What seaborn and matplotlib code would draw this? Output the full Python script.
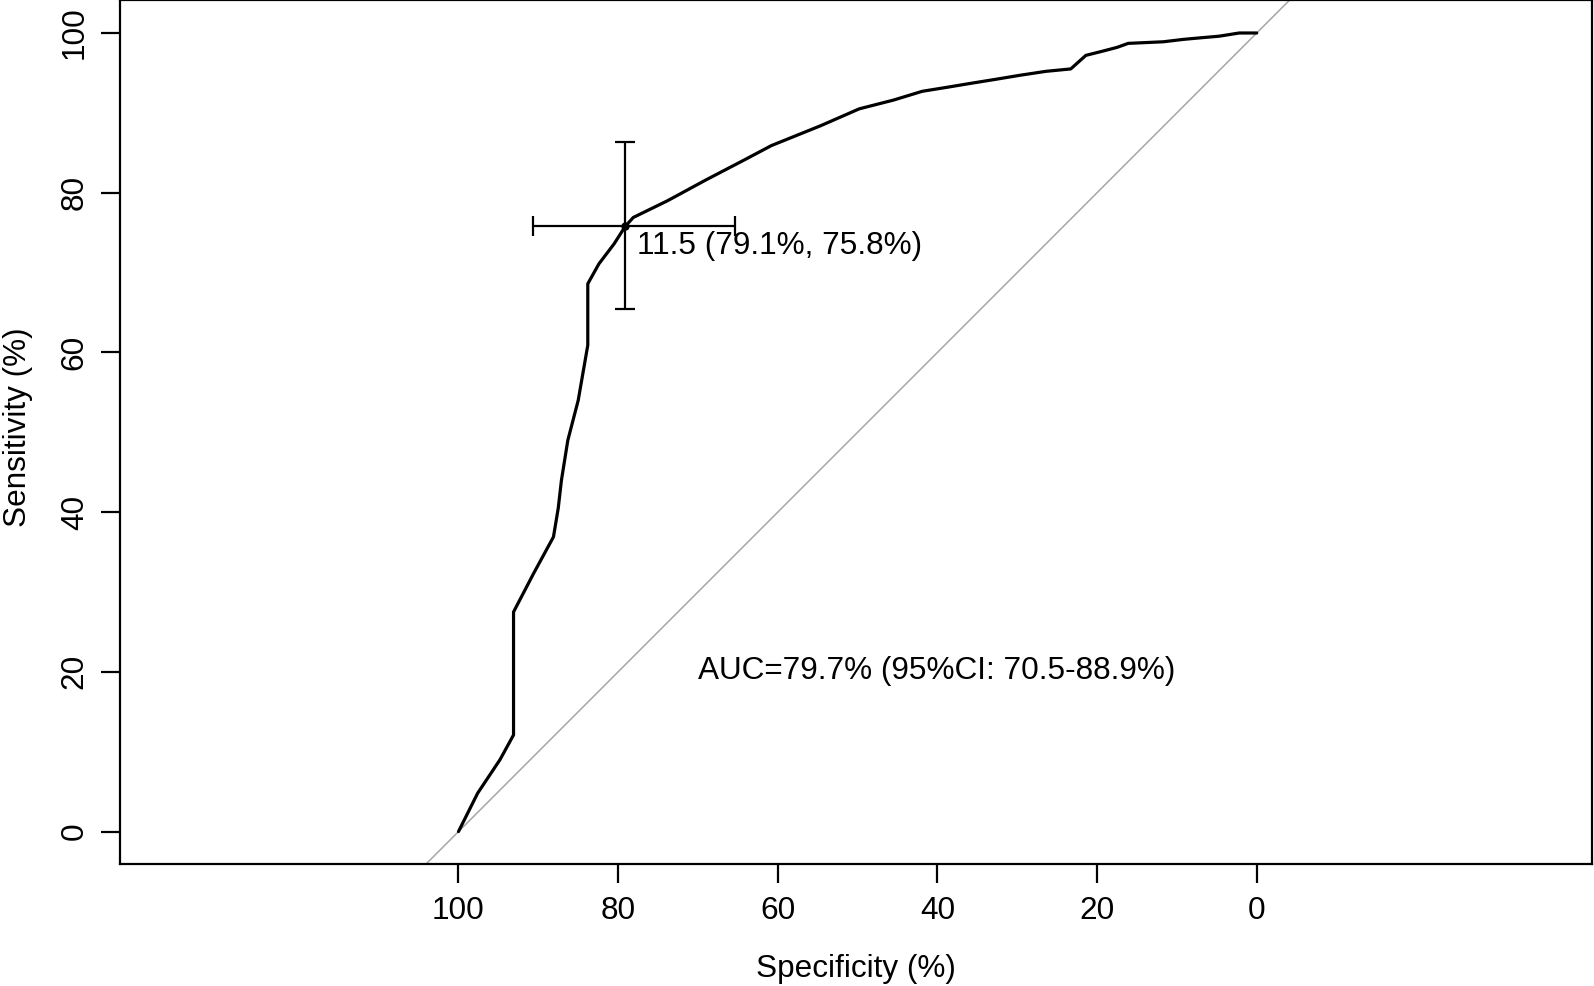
import matplotlib
matplotlib.use("Agg")
import matplotlib.pyplot as plt
import seaborn as sns
import pandas as pd

# ROC curve (specificity %, sensitivity %)
specificity = [100, 97.6, 94.8, 93.1, 93.1, 90.6, 88.1, 87.5, 87.1, 86.3, 85.0, 83.8, 83.8,
               82.4, 80.5, 79.1, 78.1, 73.8, 69.0, 64.2, 60.8, 54.6, 49.8, 45.5, 41.9,
               38.8, 35.8, 32.7, 29.7, 26.4, 23.3, 21.4, 19.4, 17.5, 16.1, 11.7, 9.2,
               7.0, 4.7, 2.2, 0]
sensitivity = [0, 4.8, 9.0, 12.1, 27.5, 32.3, 36.9, 40.5, 44.0, 49.0, 54.0, 60.9, 68.6,
               71.1, 73.6, 75.8, 76.9, 79.0, 81.6, 84.1, 85.9, 88.4, 90.5, 91.6, 92.7,
               93.2, 93.7, 94.2, 94.7, 95.2, 95.5, 97.2, 97.7, 98.2, 98.7, 98.9, 99.2,
               99.4, 99.6, 100, 100]

# best threshold and its CI
best_spec = 79.1
best_sens = 75.8
spec_ci = [65.4, 90.7]
sens_ci = [65.4, 86.3]
threshold_label = "11.5 (79.1%, 75.8%)"
auc_label = "AUC=79.7% (95%CI: 70.5-88.9%)"
tick_values = [100, 80, 60, 40, 20, 0]

FS = 22.7

sns.set_style("ticks")
plt.rcParams['font.family'] = ['Liberation Sans', 'DejaVu Sans']
plt.rcParams['text.color'] = 'black'
plt.rcParams['axes.labelcolor'] = 'black'

fig = plt.figure(figsize=(15.94, 9.86), dpi=100)
ax = fig.add_axes([120/1594, (986-864)/986, 1472/1594, 864/986 - 0.0005])

df = pd.DataFrame({"spec": specificity, "sens": sensitivity})

ax.axline((100, 0), (0, 100), color="#a6a6a6", lw=1.1, zorder=1)
sns.lineplot(data=df, x="spec", y="sens", sort=False, estimator=None,
             color="black", lw=2.3, ax=ax, zorder=3)

ax.errorbar([best_spec], [best_sens],
            xerr=[[best_spec - spec_ci[0]], [spec_ci[1] - best_spec]],
            yerr=[[best_sens - sens_ci[0]], [sens_ci[1] - best_sens]],
            fmt="o", color="black", ms=5, elinewidth=1.6, capsize=7, capthick=1.6, zorder=4)

ax.text(77.6, 73.3, threshold_label, ha="left", va="center", fontsize=FS, color="black")
ax.text(70, 20.1, auc_label, ha="left", va="center", fontsize=FS, color="black")

ax.set_xlim(142.4, -42.0)
ax.set_ylim(-4.06, 104.07)
ax.set_xticks(tick_values)
ax.set_yticks(tick_values)
ax.set_xticklabels([str(v) for v in tick_values])
ax.set_yticklabels([str(v) for v in tick_values], rotation=90, va="center")
ax.tick_params(axis="both", direction="out", length=13.7, width=1.6, labelsize=FS,
               color="black", labelcolor="black")
ax.tick_params(axis="x", pad=9)
ax.tick_params(axis="y", pad=8)

for s in ax.spines.values():
    s.set_visible(True)
    s.set_color("black")
    s.set_linewidth(1.6)

ax.set_xlabel("Specificity (%)", fontsize=FS, color="black")
ax.set_ylabel("Sensitivity (%)", fontsize=FS, color="black")
ax.xaxis.set_label_coords(0.5, -(969 - 864) / 864)
ax.yaxis.set_label_coords(-(120 - 18) / 1472, (986 - 427 - 122) / 864)
ax.xaxis.label.set_va("center")
ax.yaxis.label.set_va("center")
ax.grid(False)

fig.savefig("out.png", dpi=100, facecolor="white")
